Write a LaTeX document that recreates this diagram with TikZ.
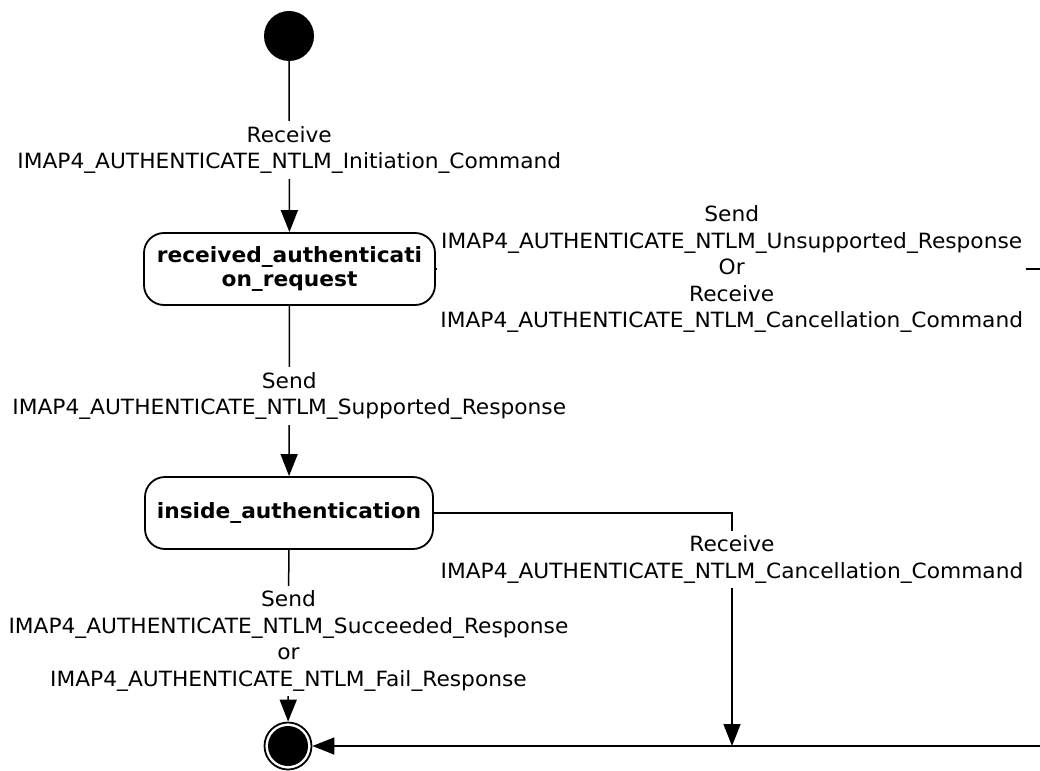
\documentclass[tikz,border=0pt]{standalone}
\usepackage{fontspec}
\newfontfamily\vfont{DejaVu Sans}[FakeStretch=1.035]
\usetikzlibrary{arrows.meta}
\begin{document}
\begin{tikzpicture}[x=1pt,y=-1pt,
  statebox/.style={draw, line width=1.8pt, rounded corners=20pt, minimum width=291pt, minimum height=72pt, align=center, inner sep=0pt, font=\vfont\bfseries\fontsize{21}{24}\selectfont},
  lbl/.style={fill=white, align=center, inner xsep=3pt, inner ysep=5pt, font=\vfont\fontsize{21}{26.5}\selectfont},
  conn/.style={line width=1.5pt},
  arr/.style={conn, -{Triangle[length=22pt,width=17pt]}}]
\useasboundingbox (0,0) rectangle (1040,770);
\clip (0,0) rectangle (1040,770);
\node[circle, fill=black, minimum size=50pt, inner sep=0pt] (init) at (289,36) {};
\node[statebox] (recv) at (289.5,269) {received\_authenticati\\on\_request};
\node[statebox, minimum width=288pt] (inside) at (289,513) {inside\_authentication};
\node[circle, draw, line width=1.8pt, minimum size=47pt, inner sep=0pt] (final) at (288,746) {};
\node[circle, fill=black, minimum size=40pt, inner sep=0pt] (finaldot) at (final.center) {};
\coordinate (rc) at (1060,269);
\coordinate (j) at (732,746);
\draw[arr] (init) -- node[lbl, pos=0.52]{Receive\\IMAP4\_AUTHENTICATE\_NTLM\_Initiation\_Command} (recv);
\draw[arr] (recv) -- node[lbl, pos=0.53]{Send\\IMAP4\_AUTHENTICATE\_NTLM\_Supported\_Response} (inside);
\draw[arr] (inside) -- node[lbl, pos=0.53]{Send\\IMAP4\_AUTHENTICATE\_NTLM\_Succeeded\_Response\\or\\IMAP4\_AUTHENTICATE\_NTLM\_Fail\_Response} (final);
\draw[conn] (recv.east) -- node[lbl, pos=0.474]{Send\\IMAP4\_AUTHENTICATE\_NTLM\_Unsupported\_Response\\Or\\Receive\\IMAP4\_AUTHENTICATE\_NTLM\_Cancellation\_Command} (rc);
\draw[arr] (rc) |- (final.east);
\draw[arr] (inside.east) -| node[lbl, pos=0.6]{Receive\\IMAP4\_AUTHENTICATE\_NTLM\_Cancellation\_Command} (j);
\end{tikzpicture}
\end{document}
